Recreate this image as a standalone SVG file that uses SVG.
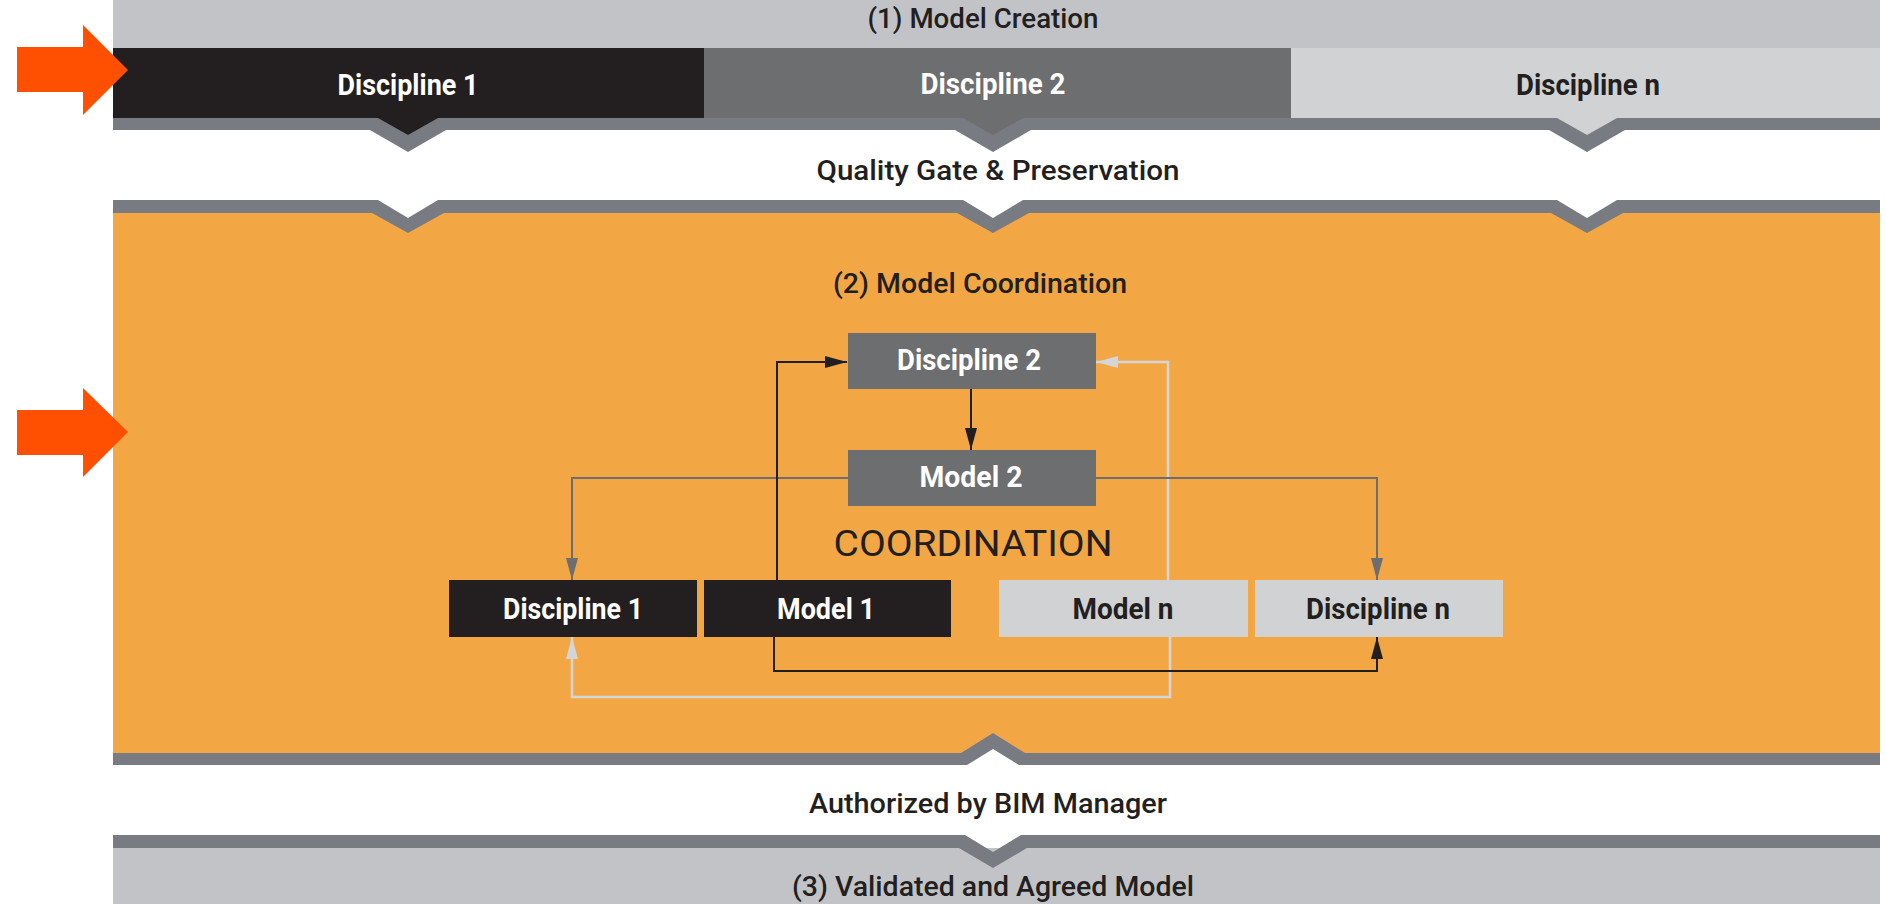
<svg xmlns="http://www.w3.org/2000/svg" width="1886" height="904" viewBox="0 0 1886 904">
<style>
.t{font-family:Roboto,"Liberation Sans",sans-serif;text-anchor:middle}
.h{font-size:28px;font-weight:500;fill:#231f20}
.n{font-size:29px;font-weight:700}
.w{fill:#ffffff}
.d{fill:#231f20}
.stripe{fill:#797b83}
.bg{fill:#ffffff}
.ln{fill:none;stroke-width:2}
.k{stroke:#231f20}
.g{stroke:#6d6e70}
.l{stroke:#d4d5d7;stroke-width:2.5}
.arr{fill:#fe5000}
</style>
<defs>
<marker id="mk" markerUnits="userSpaceOnUse" markerWidth="22" markerHeight="12" refX="22" refY="6" orient="auto"><path d="M0,0 L22,6 L0,12 z" fill="#231f20"/></marker>
<marker id="mg" markerUnits="userSpaceOnUse" markerWidth="22" markerHeight="12" refX="22" refY="6" orient="auto"><path d="M0,0 L22,6 L0,12 z" fill="#6d6e70"/></marker>
<marker id="ml" markerUnits="userSpaceOnUse" markerWidth="22" markerHeight="12" refX="22" refY="6" orient="auto"><path d="M0,0 L22,6 L0,12 z" fill="#d4d5d7"/></marker>
</defs>
<rect width="1886" height="904" fill="#ffffff"/>

<g id="model-creation">
<rect x="113" y="0" width="1767" height="48" fill="#c2c3c7"/>
<text class="t h" x="983" y="28" textLength="231" lengthAdjust="spacingAndGlyphs">(1) Model Creation</text>
</g>

<g id="band-discipline-1">
<rect x="113" y="48" width="591" height="71" fill="#231f20"/>
<polygon points="376,118 408,136 440,118" fill="#231f20"/>
<text class="t n w" x="408" y="95" textLength="141" lengthAdjust="spacingAndGlyphs">Discipline 1</text>
</g>
<g id="band-discipline-2">
<rect x="704" y="48" width="587" height="71" fill="#6d6e70"/>
<polygon points="961,118 993,136 1025,118" fill="#6d6e70"/>
<text class="t n w" x="993" y="94" textLength="145" lengthAdjust="spacingAndGlyphs">Discipline 2</text>
</g>
<g id="band-discipline-n">
<rect x="1291" y="48" width="589" height="71" fill="#d1d2d4"/>
<polygon points="1555,118 1587,136 1619,118" fill="#d1d2d4"/>
<text class="t n d" x="1588" y="95" textLength="144" lengthAdjust="spacingAndGlyphs">Discipline n</text>
</g>

<g id="quality-gate">
<polygon class="stripe" points="113,118 378,118 408,135 438,118 963,118 993,135 1023,118 1557,118 1587,135 1617,118 1880,118 1880,130 1625,130 1587,152 1549,130 1031,130 993,152 955,130 446,130 408,152 370,130 113,130"/>
<text class="t h" x="998" y="180" textLength="363" lengthAdjust="spacingAndGlyphs">Quality Gate &amp; Preservation</text>
</g>

<g id="model-coordination">
<rect x="113" y="213" width="1767" height="541" fill="#f2a744"/>
<polygon class="bg" points="376,199 408,219 440,199"/>
<polygon class="bg" points="961,199 993,219 1025,199"/>
<polygon class="bg" points="1555,199 1587,219 1619,199"/>
<polygon class="stripe" points="113,200 378,200 408,218 438,200 963,200 993,218 1023,200 1557,200 1587,218 1617,200 1880,200 1880,213 1623,213 1587,233 1551,213 1029,213 993,233 957,213 444,213 408,233 372,213 113,213"/>
<text class="t h" x="980" y="293" textLength="294" lengthAdjust="spacingAndGlyphs">(2) Model Coordination</text>
<text class="t" x="973" y="556" font-size="36" fill="#231f20" textLength="279" lengthAdjust="spacingAndGlyphs">COORDINATION</text>
</g>

<g id="connectors">
<path class="ln l" d="M1170,637 V697 H572 V637" marker-end="url(#ml)"/>
<path class="ln l" d="M1168,580 V362 H1096" marker-end="url(#ml)"/>
<path class="ln g" d="M848,478 H572 V580" marker-end="url(#mg)"/>
<path class="ln g" d="M1096,478 H1377 V580" marker-end="url(#mg)"/>
<path class="ln k" d="M777,580 V362 H847" marker-end="url(#mk)"/>
<path class="ln k" d="M971,389 V450" marker-end="url(#mk)"/>
<path class="ln k" d="M774,637 V671 H1377 V637" marker-end="url(#mk)"/>
</g>

<g id="node-discipline-2">
<rect x="848" y="333" width="248" height="56" fill="#6d6e70"/>
<text class="t n w" x="969" y="370" textLength="144" lengthAdjust="spacingAndGlyphs">Discipline 2</text>
</g>
<g id="node-model-2">
<rect x="848" y="450" width="248" height="56" fill="#6d6e70"/>
<text class="t n w" x="971" y="487" textLength="103" lengthAdjust="spacingAndGlyphs">Model 2</text>
</g>
<g id="node-discipline-1">
<rect x="449" y="580" width="248" height="57" fill="#231f20"/>
<text class="t n w" x="573" y="619" textLength="140" lengthAdjust="spacingAndGlyphs">Discipline 1</text>
</g>
<g id="node-model-1">
<rect x="704" y="580" width="247" height="57" fill="#231f20"/>
<text class="t n w" x="826" y="619" textLength="98" lengthAdjust="spacingAndGlyphs">Model 1</text>
</g>
<g id="node-model-n">
<rect x="999" y="580" width="249" height="57" fill="#d1d2d4"/>
<text class="t n d" x="1123" y="619" textLength="101" lengthAdjust="spacingAndGlyphs">Model n</text>
</g>
<g id="node-discipline-n">
<rect x="1255" y="580" width="248" height="57" fill="#d1d2d4"/>
<text class="t n d" x="1378" y="619" textLength="144" lengthAdjust="spacingAndGlyphs">Discipline n</text>
</g>

<g id="authorized">
<polygon class="bg" points="965,766 993,748 1021,766"/>
<polygon class="stripe" points="113,753 961,753 993,733 1025,753 1880,753 1880,765 1019,765 993,749 967,765 113,765"/>
<text class="t h" x="988" y="813" textLength="358" lengthAdjust="spacingAndGlyphs">Authorized by BIM Manager</text>
</g>

<g id="validated-model">
<rect x="113" y="848" width="1767" height="56" fill="#c2c3c7"/>
<polygon class="stripe" points="113,835 965,835 993,852 1021,835 1880,835 1880,848 1027,848 993,868 959,848 113,848"/>
<text class="t h" x="993" y="896" textLength="402" lengthAdjust="spacingAndGlyphs">(3) Validated and Agreed Model</text>
</g>

<g id="pointer-arrows">
<polygon class="arr" points="17,47 83,47 83,25 128,70 83,115 83,92 17,92"/>
<polygon class="arr" points="17,410 83,410 83,388 128,432 83,477 83,455 17,455"/>
</g>
</svg>
